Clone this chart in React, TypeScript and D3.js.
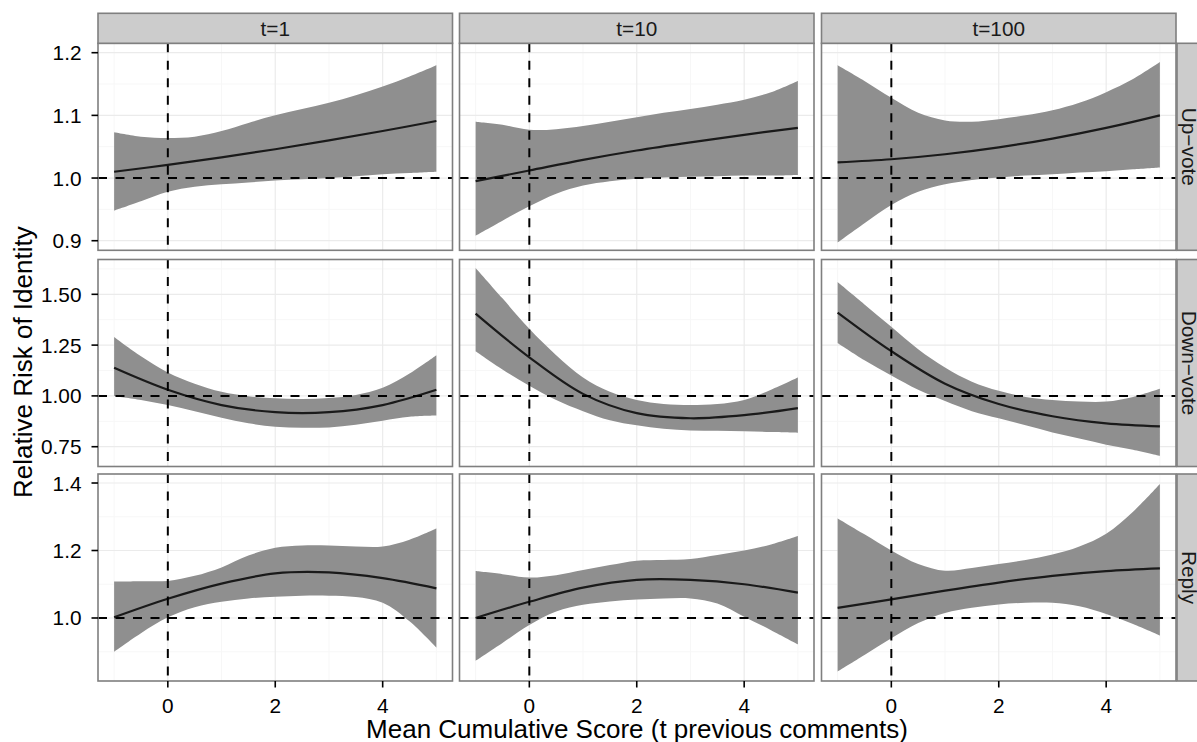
import React from "react";
import * as d3 from "d3";

// facet labels
const columns = ["t=1", "t=10", "t=100"];
const rows = ["Up\u2212vote", "Down\u2212vote", "Reply"];

const xBand = [-1, -0.5, 0, 0.5, 1, 1.5, 2, 2.5, 3, 3.5, 4, 4.5, 5];
const xFit = [-1, 0, 1, 2, 3, 4, 5];

// Up-vote
const upT1Fit = [1.010, 1.021, 1.033, 1.046, 1.060, 1.075, 1.091];
const upT1Upper = [1.073, 1.066, 1.064, 1.066, 1.075, 1.088, 1.100, 1.110, 1.120, 1.132, 1.146, 1.162, 1.180];
const upT1Lower = [0.948, 0.963, 0.978, 0.986, 0.990, 0.993, 0.996, 0.998, 1.000, 1.003, 1.006, 1.008, 1.010];

const upT10Fit = [0.995, 1.012, 1.029, 1.044, 1.057, 1.069, 1.080];
const upT10Upper = [1.090, 1.085, 1.077, 1.078, 1.083, 1.090, 1.097, 1.104, 1.110, 1.117, 1.125, 1.137, 1.155];
const upT10Lower = [0.908, 0.932, 0.955, 0.975, 0.988, 0.995, 0.999, 1.001, 1.002, 1.003, 1.004, 1.004, 1.005];

const upT100Fit = [1.025, 1.030, 1.038, 1.049, 1.063, 1.080, 1.100];
const upT100Upper = [1.180, 1.155, 1.128, 1.104, 1.092, 1.090, 1.094, 1.100, 1.108, 1.120, 1.137, 1.158, 1.185];
const upT100Lower = [0.897, 0.928, 0.957, 0.978, 0.990, 0.997, 1.001, 1.004, 1.006, 1.009, 1.011, 1.014, 1.017];

// Down-vote
const downT1Fit = [1.138, 1.030, 0.955, 0.920, 0.920, 0.955, 1.030];
const downT1Upper = [1.290, 1.195, 1.115, 1.060, 1.020, 0.998, 0.988, 0.985, 0.990, 1.005, 1.040, 1.110, 1.200];
const downT1Lower = [1.000, 0.980, 0.955, 0.925, 0.893, 0.865, 0.848, 0.843, 0.845, 0.858, 0.878, 0.897, 0.903];

const downT10Fit = [1.405, 1.190, 1.010, 0.915, 0.890, 0.905, 0.940];
const downT10Upper = [1.630, 1.480, 1.330, 1.200, 1.090, 1.020, 0.980, 0.960, 0.955, 0.960, 0.980, 1.030, 1.090];
const downT10Lower = [1.220, 1.130, 1.050, 0.980, 0.925, 0.880, 0.855, 0.838, 0.830, 0.828, 0.826, 0.822, 0.818];

const downT100Fit = [1.410, 1.220, 1.060, 0.960, 0.900, 0.865, 0.850];
const downT100Upper = [1.560, 1.450, 1.340, 1.230, 1.140, 1.070, 1.025, 0.995, 0.980, 0.972, 0.972, 0.995, 1.035];
const downT100Lower = [1.260, 1.175, 1.100, 1.030, 0.975, 0.925, 0.890, 0.855, 0.820, 0.790, 0.760, 0.735, 0.705];

// Reply
const replyT1Fit = [1.002, 1.057, 1.102, 1.132, 1.135, 1.118, 1.088];
const replyT1Upper = [1.108, 1.109, 1.110, 1.125, 1.150, 1.185, 1.208, 1.215, 1.215, 1.212, 1.212, 1.232, 1.265];
const replyT1Lower = [0.900, 0.955, 1.002, 1.032, 1.048, 1.058, 1.063, 1.066, 1.066, 1.062, 1.045, 0.990, 0.912];

const replyT10Fit = [1.000, 1.048, 1.090, 1.113, 1.113, 1.100, 1.075];
const replyT10Upper = [1.139, 1.130, 1.120, 1.127, 1.142, 1.157, 1.170, 1.172, 1.175, 1.187, 1.200, 1.218, 1.243];
const replyT10Lower = [0.873, 0.926, 0.979, 1.019, 1.039, 1.049, 1.055, 1.058, 1.058, 1.043, 1.004, 0.964, 0.922];

const replyT100Fit = [1.030, 1.055, 1.081, 1.105, 1.125, 1.139, 1.147];
const replyT100Upper = [1.295, 1.248, 1.200, 1.160, 1.140, 1.148, 1.160, 1.172, 1.188, 1.212, 1.250, 1.315, 1.397];
const replyT100Lower = [0.841, 0.890, 0.940, 0.985, 1.015, 1.030, 1.040, 1.045, 1.045, 1.035, 1.012, 0.982, 0.948];

// axes
const xTicks = [0, 2, 4];
const xMinor = [-1, 1, 3, 5];
const xLimits = [-1.3, 5.3];
const yTicks = [[0.9, 1.0, 1.1, 1.2], [0.75, 1.0, 1.25, 1.5], [1.0, 1.2, 1.4]];
const yTickLabels = [["0.9", "1.0", "1.1", "1.2"], ["0.75", "1.00", "1.25", "1.50"], ["1.0", "1.2", "1.4"]];
const yMinor = [[0.95, 1.05, 1.15], [0.875, 1.125, 1.375, 1.625], [0.9, 1.1, 1.3]];
const yLimits = [[0.8847, 1.215], [0.6526, 1.6713], [0.8133, 1.4267]];

const panels = [
  [
    { fit: upT1Fit, upper: upT1Upper, lower: upT1Lower },
    { fit: upT10Fit, upper: upT10Upper, lower: upT10Lower },
    { fit: upT100Fit, upper: upT100Upper, lower: upT100Lower },
  ],
  [
    { fit: downT1Fit, upper: downT1Upper, lower: downT1Lower },
    { fit: downT10Fit, upper: downT10Upper, lower: downT10Lower },
    { fit: downT100Fit, upper: downT100Upper, lower: downT100Lower },
  ],
  [
    { fit: replyT1Fit, upper: replyT1Upper, lower: replyT1Lower },
    { fit: replyT10Fit, upper: replyT10Upper, lower: replyT10Lower },
    { fit: replyT100Fit, upper: replyT100Upper, lower: replyT100Lower },
  ],
];

const W = 1197;
const H = 742;
const panelLeft = [98, 459.5, 821.5];
const panelW = 354.5;
const panelTop = [43.3, 259.5, 474];
const panelH = 207;
const stripSize = 30;
const font = "'Liberation Sans', Arial, Helvetica, sans-serif";
const border = "#7f7f7f";
const tickSize = 20.8;
const titleSize = 26;

const Panel = ({ r, c }: { r: number; c: number }) => {
  const x0 = panelLeft[c];
  const y0 = panelTop[r];
  const x = d3.scaleLinear().domain(xLimits).range([x0, x0 + panelW]);
  const y = d3.scaleLinear().domain(yLimits[r]).range([y0 + panelH, y0]);
  const d = panels[r][c];

  const band = d3
    .area<number>()
    .x((_, i) => x(xBand[i]))
    .y0((_, i) => y(d.lower[i]))
    .y1((v) => y(v))
    .curve(d3.curveCatmullRom.alpha(0.5));
  const fit = d3
    .line<number>()
    .x((_, i) => x(xFit[i]))
    .y((v) => y(v))
    .curve(d3.curveCatmullRom.alpha(0.5));

  const clipId = `clip-${r}-${c}`;
  return (
    <g>
      <defs>
        <clipPath id={clipId}>
          <rect x={x0} y={y0} width={panelW} height={panelH} />
        </clipPath>
      </defs>
      <rect x={x0} y={y0} width={panelW} height={panelH} fill="#fff" />
      <g clipPath={`url(#${clipId})`}>
        {xMinor.map((v) => (
          <line key={"xm" + v} x1={x(v)} x2={x(v)} y1={y0} y2={y0 + panelH} stroke="#f7f7f7" strokeWidth={1} />
        ))}
        {yMinor[r].map((v) => (
          <line key={"ym" + v} x1={x0} x2={x0 + panelW} y1={y(v)} y2={y(v)} stroke="#f7f7f7" strokeWidth={1} />
        ))}
        {xTicks.map((v) => (
          <line key={"xg" + v} x1={x(v)} x2={x(v)} y1={y0} y2={y0 + panelH} stroke="#ebebeb" strokeWidth={1.2} />
        ))}
        {yTicks[r].map((v) => (
          <line key={"yg" + v} x1={x0} x2={x0 + panelW} y1={y(v)} y2={y(v)} stroke="#ebebeb" strokeWidth={1.2} />
        ))}
        <path d={band(d.upper) || ""} fill="#8f8f8f" />
        <path d={fit(d.fit) || ""} fill="none" stroke="#1a1a1a" strokeWidth={2.2} />
        <line x1={x0} x2={x0 + panelW} y1={y(1)} y2={y(1)} stroke="#000" strokeWidth={2} strokeDasharray="9,8.5" />
        <line x1={x(0)} x2={x(0)} y1={y0} y2={y0 + panelH} stroke="#000" strokeWidth={2} strokeDasharray="9,8.5" />
      </g>
      <rect x={x0} y={y0} width={panelW} height={panelH} fill="none" stroke={border} strokeWidth={1.6} />
    </g>
  );
};

export default function App() {
  const xAxisScales = panelLeft.map((l) => d3.scaleLinear().domain(xLimits).range([l, l + panelW]));
  const yAxisScales = panelTop.map((t, r) => d3.scaleLinear().domain(yLimits[r]).range([t + panelH, t]));
  const bottom = panelTop[2] + panelH;
  const right = panelLeft[2] + panelW;

  return (
    <svg width={W} height={H} style={{ position: "absolute", left: 0, top: 0, background: "#fff" }} fontFamily={font}>
      <rect width={W} height={H} fill="#fff" />
      {rows.map((_, r) => columns.map((__, c) => <Panel key={`${r}-${c}`} r={r} c={c} />))}

      {/* top strips */}
      {columns.map((lab, c) => (
        <g key={lab}>
          <rect x={panelLeft[c]} y={panelTop[0] - stripSize} width={panelW} height={stripSize} fill="#cccccc" stroke={border} strokeWidth={1.6} />
          <text x={panelLeft[c] + panelW / 2} y={panelTop[0] - stripSize / 2} textAnchor="middle" dominantBaseline="central" fontSize={tickSize} fill="#1a1a1a">
            {lab}
          </text>
        </g>
      ))}

      {/* right strips */}
      {rows.map((lab, r) => (
        <g key={lab}>
          <rect x={right + 1} y={panelTop[r]} width={stripSize} height={panelH} fill="#cccccc" stroke={border} strokeWidth={1.6} />
          <text
            transform={`translate(1189,${panelTop[r] + panelH / 2}) rotate(90)`}
            textAnchor="middle"
            dominantBaseline="central"
            fontSize={tickSize}
            fill="#1a1a1a"
          >
            {lab}
          </text>
        </g>
      ))}

      {/* y axes */}
      {yAxisScales.map((ys, r) => (
        <g key={"ya" + r}>
          {yTicks[r].map((v, i) => (
            <g key={v}>
              <line x1={panelLeft[0] - 6.5} x2={panelLeft[0]} y1={ys(v)} y2={ys(v)} stroke="#000" strokeWidth={1.6} />
              <text x={panelLeft[0] - 16.5} y={ys(v)} textAnchor="end" dominantBaseline="central" fontSize={tickSize} fill="#000">
                {yTickLabels[r][i]}
              </text>
            </g>
          ))}
        </g>
      ))}

      {/* x axes */}
      {xAxisScales.map((xs, c) => (
        <g key={"xa" + c}>
          {xTicks.map((v) => (
            <g key={v}>
              <line x1={xs(v)} x2={xs(v)} y1={bottom} y2={bottom + 6.5} stroke="#000" strokeWidth={1.6} />
              <text x={xs(v)} y={bottom + 24} textAnchor="middle" dominantBaseline="central" fontSize={tickSize} fill="#000">
                {v}
              </text>
            </g>
          ))}
        </g>
      ))}

      <text x={(panelLeft[0] + right) / 2} y={H - 4} textAnchor="middle" fontSize={titleSize} fill="#000">
        Mean Cumulative Score (t previous comments)
      </text>
      <text
        transform={`translate(32,${(panelTop[0] + bottom) / 2}) rotate(-90)`}
        textAnchor="middle"
        fontSize={titleSize}
        fill="#000"
      >
        Relative Risk of Identity
      </text>
    </svg>
  );
}
